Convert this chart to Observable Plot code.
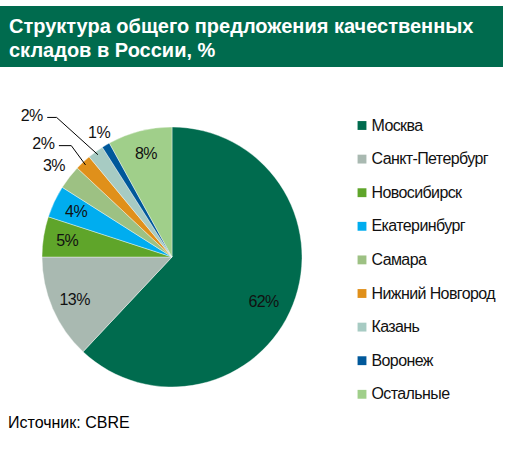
<!DOCTYPE html>
<html>
<head>
<meta charset="utf-8">
<script src="https://cdn.jsdelivr.net/npm/d3@7"></script>
<script src="https://cdn.jsdelivr.net/npm/@observablehq/plot@0.6"></script>
<style>
  body { margin: 0; background: #fff; font-family: "Liberation Sans", Arial, sans-serif; }
  #title {
    position: absolute; left: 0; top: 6px; width: 503px; height: 61px;
    box-sizing: border-box; padding: 8px 0 0 9px;
    background: #006b4e; color: #fff;
    font-weight: bold; font-size: 20px; line-height: 24px;
  }
  #chart { position: absolute; left: 0; top: 70px; }
  #chart text { letter-spacing: -0.6px; }
  #source { position: absolute; left: 8px; top: 414px; font-size: 16px; color: #000; }
</style>
</head>
<body>
<div id="title">Структура общего предложения качественных<br>складов в России, %</div>
<div id="chart"></div>
<div id="source">Источник: CBRE</div>
<script>
// данные
const cities = ["Москва", "Санкт-Петербург", "Новосибирск", "Екатеринбург", "Самара",
                "Нижний Новгород", "Казань", "Воронеж", "Остальные"];
const shares = [62, 13, 5, 4, 3, 2, 2, 1, 8];
const colors = ["#006b4e", "#a9b9b1", "#5fa52a", "#00adef", "#9dc183",
                "#e0901a", "#a7cbc3", "#00589a", "#a0cf8a"];

// 1 unit = радиус круга (130px), центр круга в (172, 257) на странице
const R = 130, CX = 172, CY = 257, TOP = 70, H = 340;
const ux = px => (px - CX) / R;
const uy = py => (CY - py) / R;

const table = cities.map((name, i) => ({name, value: shares[i]}));
const arcs = d3.pie().sort(null).value(d => d.value)(table);

// подписи процентов
const outside = {"Самара": 1.155, "Воронеж": 1.11};
const leaders = {"Нижний Новгород": [-14, -19, -12], "Казань": [-41, -37, -9]}; // dx, dy, хвост (px)
const pctRows = [], sideRows = [], leaderRows = [];
for (const a of arcs) {
  let mid = (a.startAngle + a.endAngle) / 2;
  const name = a.data.name, label = a.data.value + "%";
  if (leaders[name]) {
    const [dx, dy, tail] = leaders[name];
    const x0 = Math.sin(mid) * 0.98, y0 = Math.cos(mid) * 0.98;
    const x1 = x0 + dx / R, y1 = y0 - dy / R;
    const x2 = x1 + tail / R;
    leaderRows.push({name, x: x0, y: y0}, {name, x: x1, y: y1}, {name, x: x2, y: y1});
    sideRows.push({label, x: x2 - 5 / R, y: y1 + 2 / R});
  } else {
    let r = outside[name] || 0.82;
    if (name === "Москва") { r = 0.78; mid += 0.08; }
    pctRows.push({label, x: Math.sin(mid) * r, y: Math.cos(mid) * r});
  }
}

// легенда
const legendRows = cities.map((name, i) => ({
  name, x: ux(361.5), tx: ux(371), y: uy(125 + i * 33.6)
}));

function pieMark(index, scales) {
  const cx = scales.x(0), cy = scales.y(0);
  const r = scales.x(1) - scales.x(0);
  const arc = d3.arc().innerRadius(0).outerRadius(r);
  const g = d3.create("svg:g").attr("transform", `translate(${cx},${cy})`);
  g.selectAll("path").data(arcs).join("path")
    .attr("d", arc)
    .attr("fill", d => scales.color(d.data.name))
    .attr("stroke", "#fff").attr("stroke-width", 0.4);
  return g.node();
}

const chart = Plot.plot({
  width: 521,
  height: H,
  margin: 0,
  x: {domain: [ux(0), ux(521)], axis: null},
  y: {domain: [uy(TOP + H), uy(TOP)], axis: null},
  color: {domain: cities, range: colors},
  style: {fontFamily: "Liberation Sans, Arial, sans-serif", fontSize: 16, color: "#000"},
  marks: [
    pieMark,
    Plot.line(leaderRows, {x: "x", y: "y", z: "name", stroke: "#000", strokeWidth: 1}),
    Plot.text(pctRows, {x: "x", y: "y", text: "label", fontSize: 16, fill: "#111"}),
    Plot.text(sideRows, {x: "x", y: "y", text: "label", textAnchor: "end", fontSize: 16, fill: "#111"}),
    Plot.dot(legendRows, {x: "x", y: "y", symbol: "square", r: 5, fill: "name"}),
    Plot.text(legendRows, {x: "tx", y: "y", text: "name", textAnchor: "start", fontSize: 16, fill: "#111"})
  ]
});
d3.select("#chart").append(() => chart);
</script>
</body>
</html>
